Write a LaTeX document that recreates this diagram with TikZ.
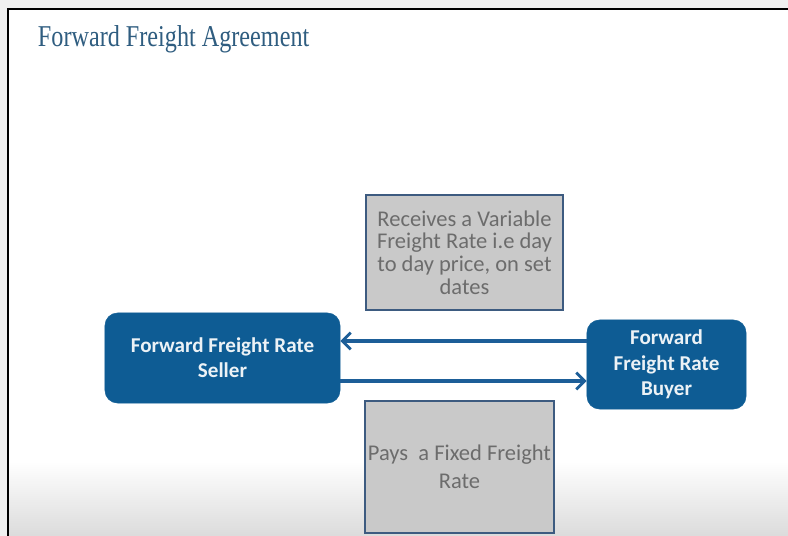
\documentclass[tikz,border=0pt]{standalone}
\usepackage{fontspec}
\setmainfont{Liberation Serif}
\newfontfamily\slidefont{Carlito}
\usetikzlibrary{arrows.meta, positioning, shapes.misc}
\definecolor{ffaBlue}{HTML}{0E5C94}
\definecolor{ffaArrow}{HTML}{1D5E98}
\definecolor{ffaTitle}{HTML}{2F5D80}
\definecolor{ffaGray}{HTML}{C9C9C9}
\definecolor{ffaEdge}{HTML}{3D5B80}
\definecolor{ffaText}{HTML}{6C6C6C}

\begin{document}
\begin{tikzpicture}[
    x=0.025cm, y=0.025cm,
    party/.style={rectangle, rounded corners=9pt, draw=ffaBlue, fill=ffaBlue,
                 font=\slidefont\fontsize{15}{18}\selectfont\bfseries, text=white!92!ffaBlue,
                 align=center, inner sep=3pt},
    legbox/.style={rectangle, draw=ffaEdge, line width=1.5pt, fill=ffaGray,
                 font=\slidefont\fontsize{16}{16.2}\selectfont, text=ffaText,
                 align=center, inner sep=2pt},
    flowarrow/.style={draw=ffaArrow, line width=2.2pt,
                 -{Straight Barb[length=6pt, width=12pt, line width=2pt]}},
  ]
    \useasboundingbox (0,0) rectangle (788,536);
    % slide background
    \fill[gray!12] (0,0) rectangle (788,536);
    \fill[white] (8,0) rectangle (788,527);
    \shade[top color=white, bottom color=gray!28] (8,0) rectangle (788,75);
    \draw[black, line width=1.4pt] (8,0) -- (8,527) -- (788,527);

    \node[anchor=west, font=\fontsize{21.5}{24}\selectfont, text=ffaTitle] (title) at (33,497) {\scalebox{0.8}[1]{Forward Freight Agreement}};

    \node[party, minimum width=5.875cm, minimum height=2.25cm] (seller) at (222.5,178) {Forward Freight Rate\\Seller};
    \node[party, minimum width=3.975cm, minimum height=2.225cm] (buyer) at (666.5,171.5) {Forward\\Freight Rate\\Buyer};

    \node[legbox, minimum width=4.925cm, minimum height=2.875cm] (receives) at (464.5,283.5) {Receives a Variable\\Freight Rate i.e day\\to day price, on set\\dates};
    \node[legbox, minimum width=4.625cm, minimum height=3.3cm, font=\slidefont\fontsize{16}{20}\selectfont] (pays) at (459.5,69) {Pays\ \ a Fixed Freight\\Rate};

    \coordinate (toplane) at (0,195);
    \coordinate (botlane) at (0,155);
    \draw[flowarrow] (buyer.west |- toplane) -- (seller.east |- toplane);
    \draw[flowarrow] (seller.east |- botlane) -- (buyer.west |- botlane);
  \end{tikzpicture}
\end{document}
